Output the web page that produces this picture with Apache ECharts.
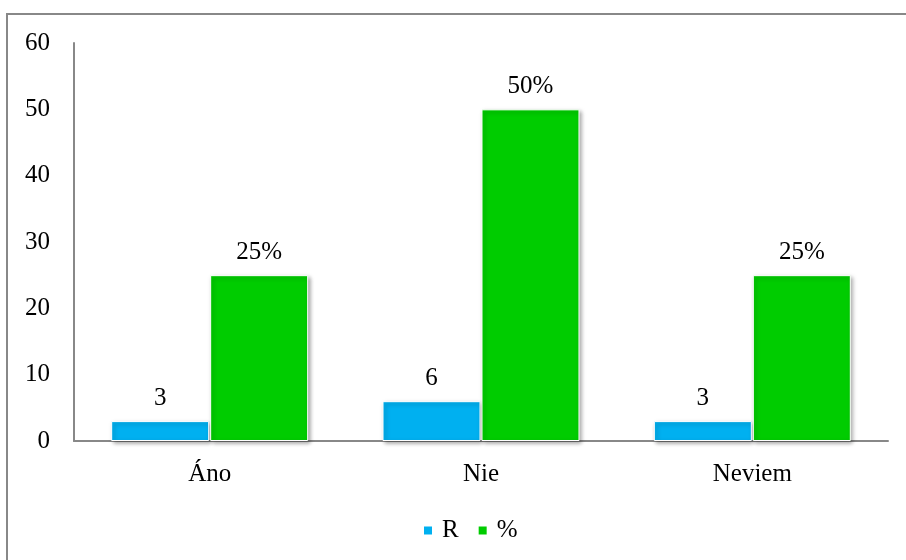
<!DOCTYPE html>
<html>
<head>
<meta charset="utf-8">
<script src="https://cdn.jsdelivr.net/npm/echarts@6/dist/echarts.min.js"></script>
<style>html,body{margin:0;padding:0;background:#fff}#c{width:906px;height:560px}</style>
</head>
<body>
<div id="c"></div>
<script>
const categories = ['Áno', 'Nie', 'Neviem'];
const seriesNames = ['R', '%'];
const valuesR = [3, 6, 3];
const valuesPct = [25, 50, 25];
const yTicks = [0, 10, 20, 30, 40, 50, 60];

const font = 'Liberation Serif, Times New Roman, serif';
const chart = echarts.init(document.getElementById('c'));
chart.setOption({
  animation: false,
  textStyle: { fontFamily: font },
  graphic: [{
    type: 'rect', silent: true,
    shape: { x: 7, y: 14, width: 1000, height: 1000 },
    style: { fill: 'none', stroke: '#888', lineWidth: 2 }
  }],
  grid: { left: 74, right: 18, top: 43, bottom: 119 },
  legend: {
    top: 513, left: 417,
    itemWidth: 10, itemHeight: 10, itemGap: 18,
    icon: 'rect',
    textStyle: { fontFamily: font, fontSize: 25, color: '#000', padding: [0, 0, 0, 4] },
    data: seriesNames
  },
  xAxis: {
    type: 'category', data: categories,
    axisLine: { lineStyle: { color: '#888', width: 2 } },
    axisTick: { show: false },
    axisLabel: { fontFamily: font, fontSize: 25, color: '#000', margin: 21 }
  },
  yAxis: {
    type: 'value', min: yTicks[0], max: yTicks[yTicks.length - 1], interval: 10,
    axisLine: { show: true, lineStyle: { color: '#888', width: 2 } },
    axisTick: { show: false },
    splitLine: { show: false },
    axisLabel: { fontFamily: font, fontSize: 25, color: '#000', margin: 24 }
  },
  series: [
    {
      name: seriesNames[0], type: 'bar', data: valuesR,
      barWidth: 98, barGap: '1%',
      itemStyle: { color: '#00B0F0', borderColor: '#fff', borderWidth: 1, shadowColor: 'rgba(0,0,0,0.35)', shadowBlur: 4, shadowOffsetX: 2, shadowOffsetY: 2 },
      label: { show: true, position: 'top', distance: 10, fontFamily: font, fontSize: 25, color: '#000' }
    },
    {
      name: seriesNames[1], type: 'bar', data: valuesPct,
      barWidth: 98,
      itemStyle: { color: '#00CC00', borderColor: '#fff', borderWidth: 1, shadowColor: 'rgba(0,0,0,0.35)', shadowBlur: 4, shadowOffsetX: 2, shadowOffsetY: 2 },
      label: { show: true, position: 'top', distance: 10, fontFamily: font, fontSize: 25, color: '#000', formatter: p => p.value + '%' }
    }
  ]
});
</script>
</body>
</html>
